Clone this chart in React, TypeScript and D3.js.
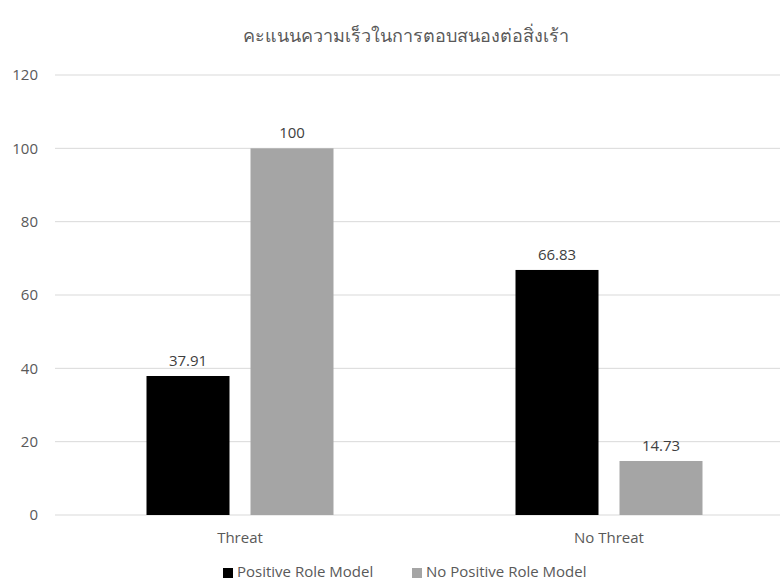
import React from "react";
import * as d3 from "d3";

const categories = ["Threat", "No Threat"];
const seriesNames = ["Positive Role Model", "No Positive Role Model"];
const positiveRoleModel = [37.91, 66.83];
const noPositiveRoleModel = [100, 14.73];
const yTicks = [0, 20, 40, 60, 80, 100, 120];
const title = "คะแนนความเร็วในการตอบสนองต่อสิ่งเร้า";

const colors = ["#000000", "#a5a5a5"];
const W = 780;
const H = 581;
const font = "'Open Sans', 'Noto Sans', sans-serif";

export default function App() {
  const x = d3.scaleBand<string>().domain(categories).range([55.5, 793.5]).paddingInner(0).paddingOuter(0);
  const y = d3.scaleLinear().domain([0, 120]).range([515, 75]);
  const barW = 83;
  const barGap = 21;
  const series = [positiveRoleModel, noPositiveRoleModel];

  return (
    <svg width={W} height={H} style={{ position: "absolute", left: 0, top: 0, background: "#fff" }}>
      <rect x={0} y={0} width={W} height={H} fill="#fff" />
      <text x={406} y={42} textAnchor="middle" fontFamily={font} fontSize={18} fill="#595959">
        {title}
      </text>
      {yTicks.map((t) => (
        <g key={t}>
          <line x1={55} x2={W} y1={y(t)} y2={y(t)} stroke="#d9d9d9" strokeWidth={1} />
          <text x={38} y={y(t)} dy="0.35em" textAnchor="end" fontFamily={font} fontSize={15} fill="#595959">
            {t}
          </text>
        </g>
      ))}
      {categories.map((c, i) => {
        const center = (x(c) as number) + x.bandwidth() / 2;
        const groupW = barW * 2 + barGap;
        const start = center - groupW / 2;
        return (
          <g key={c}>
            {series.map((s, j) => {
              const bx = start + j * (barW + barGap);
              return (
                <g key={j}>
                  <rect x={bx} y={y(s[i])} width={barW} height={y(0) - y(s[i])} fill={colors[j]} />
                  <text x={bx + barW / 2} y={y(s[i]) - 10} textAnchor="middle" fontFamily={font} fontSize={15} fill="#404040">
                    {s[i]}
                  </text>
                </g>
              );
            })}
            <text x={center} y={538} dy="0.35em" textAnchor="middle" fontFamily={font} fontSize={15} fill="#595959">
              {c}
            </text>
          </g>
        );
      })}
      {seriesNames.map((n, j) => {
        const lx = [223, 412][j];
        return (
          <g key={n}>
            <rect x={lx} y={568} width={10} height={10} fill={colors[j]} />
            <text x={lx + 14} y={577} fontFamily={font} fontSize={15} fill="#595959">
              {n}
            </text>
          </g>
        );
      })}
    </svg>
  );
}
